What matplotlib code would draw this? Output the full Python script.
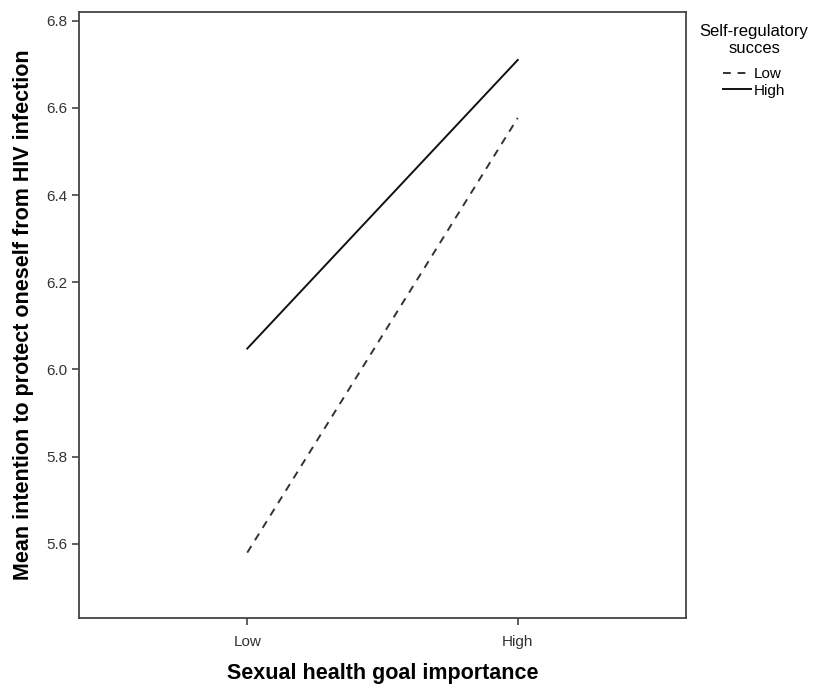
import matplotlib.pyplot as plt
from matplotlib.lines import Line2D

plt.rcParams['font.family'] = ['Liberation Sans', 'DejaVu Sans']

# data
goal_levels = ['Low', 'High']
low_success = [5.58, 6.577]
high_success = [6.048, 6.71]
y_ticks = [5.6, 5.8, 6.0, 6.2, 6.4, 6.6, 6.8]

fig = plt.figure(figsize=(8.19, 6.88), dpi=100)
ax = fig.add_axes([79 / 819, 1 - 618 / 688, (686 - 79) / 819, (618 - 12) / 688])

x = list(range(len(goal_levels)))
ax.plot(x, low_success, color='#333333', lw=1.4, linestyle=(0, (4, 3.5)))
ax.plot(x, high_success, color='#111111', lw=1.4)

ax.set_xlim(-0.622, 1.622)
ax.set_ylim(5.43, 6.82)
ax.set_xticks(x)
ax.set_xticklabels(goal_levels)
ax.set_yticks(y_ticks)
ax.set_yticklabels([f'{v:.1f}' for v in y_ticks])

for s in ax.spines.values():
    s.set_color('#444444')
    s.set_linewidth(1.3)
ax.tick_params(axis='both', colors='#444444', labelcolor='#333333',
               labelsize=11, length=5, width=1.2)
ax.tick_params(axis='x', pad=7)

ax.set_xlabel('Sexual health goal importance', fontsize=15.5, fontweight='bold', labelpad=10)
ax.set_ylabel('Mean intention to protect oneself from HIV infection', fontsize=15.5,
              fontweight='bold', labelpad=9)

handles = [Line2D([], [], color='#333333', lw=1.4, linestyle=(0, (4, 3.5))),
           Line2D([], [], color='#111111', lw=1.4)]
leg = ax.legend(handles, ['Low', 'High'], title='Self-regulatory\nsucces',
                loc='upper left', bbox_to_anchor=(1.0, 1.003), frameon=False,
                fontsize=11, title_fontsize=12, handlelength=1.8, handletextpad=0.2,
                labelspacing=0.15)
leg.get_title().set_multialignment('center')
leg._legend_box.sep = 8

fig.savefig('out.png', dpi=100)
